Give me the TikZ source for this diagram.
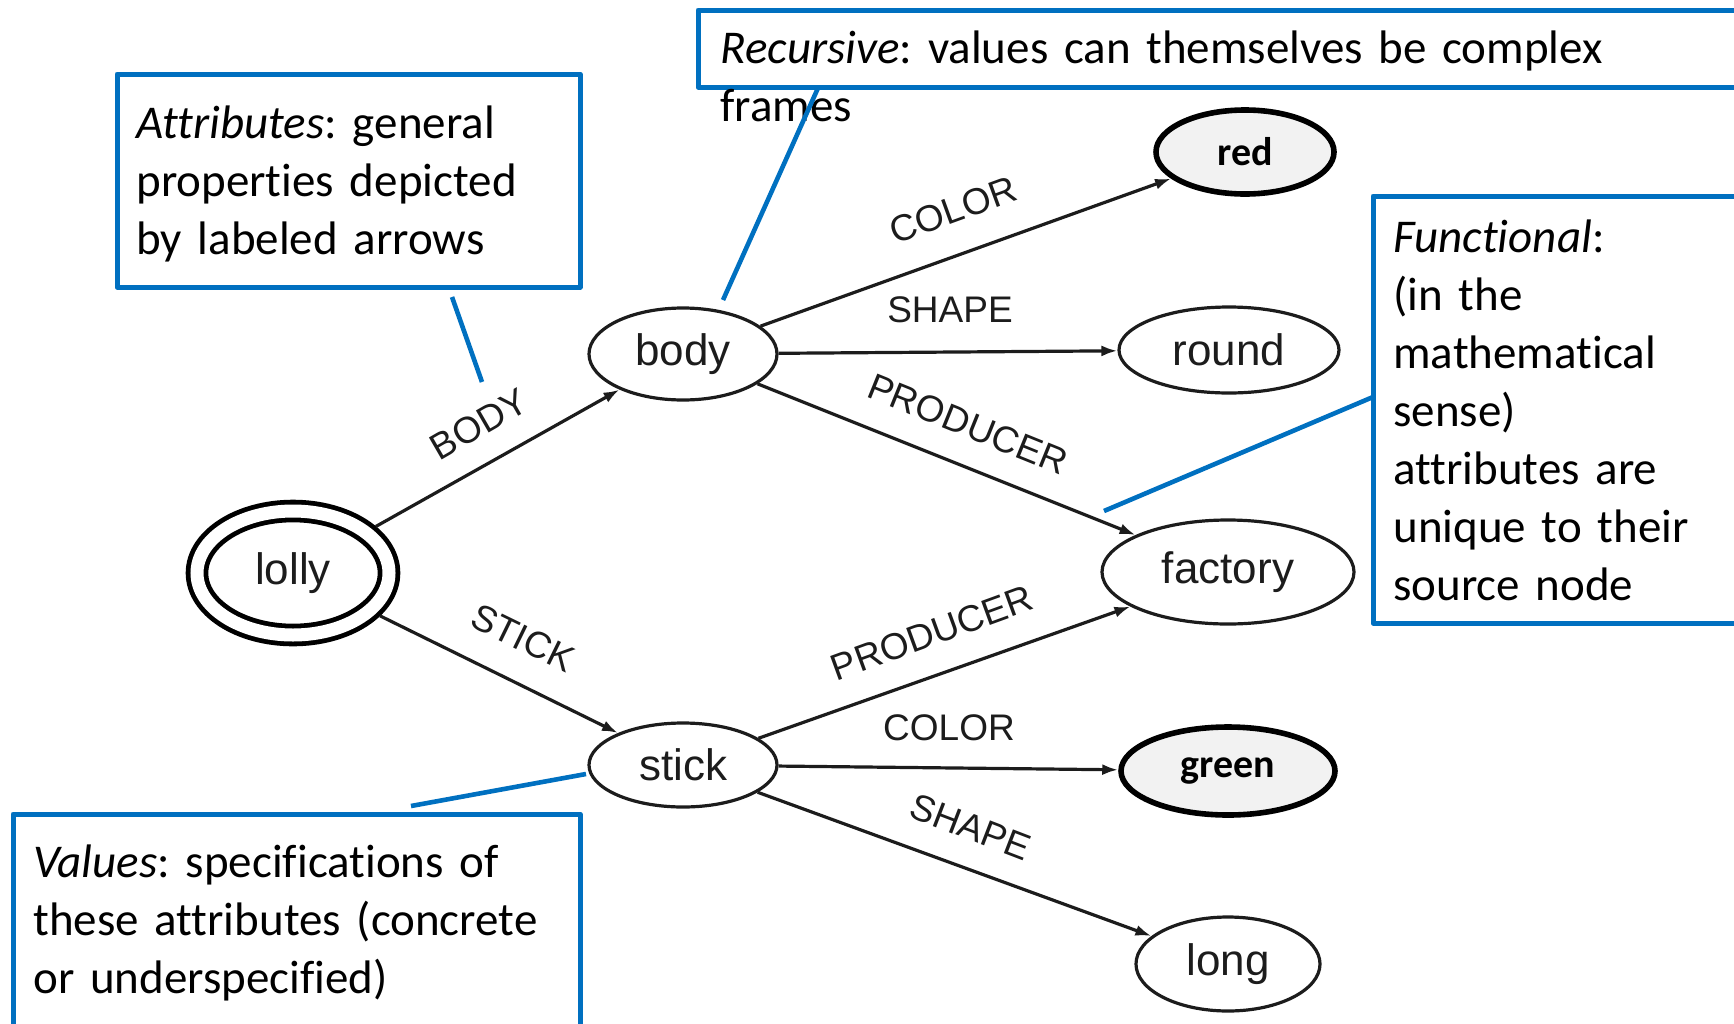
\documentclass[tikz,border=0pt]{standalone}
\usepackage{fontspec}
\setmainfont{Carlito}[Ligatures=NoCommon]
\newfontfamily\graphfont{Liberation Sans}
\usetikzlibrary{shapes.geometric,arrows.meta}
\definecolor{callblue}{RGB}{0,112,192}
\definecolor{inkgray}{RGB}{28,28,28}
\definecolor{valfill}{RGB}{242,242,242}
\frenchspacing

\begin{document}
\begin{tikzpicture}[x=0.5pt,y=-0.5pt,
  frame/.style={ellipse, draw=inkgray, line width=1.6pt, inner sep=0pt,
    text=inkgray, font=\graphfont\fontsize{22}{26}\selectfont},
  valnode/.style={ellipse, draw=black, line width=2.8pt, fill=valfill, inner sep=0pt,
    font=\bfseries\fontsize{20}{24}\selectfont},
  attr/.style={draw=inkgray, line width=1.6pt, -{Latex[length=8pt,width=5.5pt]}},
  elabel/.style={text=inkgray, font=\graphfont\fontsize{18.5}{22}\selectfont, inner sep=0pt},
  notebox/.style={draw=callblue, line width=2.5pt, fill=white, line join=round},
  notetext/.style={anchor=base west, inner sep=0pt, text width=500pt, align=left,
    font=\fontsize{23.5}{29}\selectfont},
  callout/.style={draw=callblue, line width=2.3pt}
]

\useasboundingbox (0,0) rectangle (1734,1023);
\clip (0,0) rectangle (1734,1023);

% ---- frame graph ----
\node[frame, draw=black, line width=2.4pt, double=white, double distance=6.5pt,
      minimum width=96pt, minimum height=62pt, outer sep=5.65pt] (lolly) at (293,573) {lolly};
\node[frame, minimum width=94pt, minimum height=46pt] (body) at (683,354) {body};
\node[valnode, minimum width=89pt, minimum height=42pt] (red) at (1245,152) {red};
\node[frame, minimum width=110pt, minimum height=43pt] (round) at (1229,350) {round};
\node[frame, minimum width=126pt, minimum height=52pt] (factory) at (1228,572) {factory};
\node[frame, minimum width=94pt, minimum height=42pt] (stick) at (683,765) {stick};
\node[valnode, minimum width=107pt, minimum height=44pt] (green) at (1228,771) {green};
\node[frame, minimum width=92pt, minimum height=47pt] (long) at (1228,964) {long};

\draw[attr] (lolly) -- (body);
\draw[attr] (lolly) -- (stick);
\draw[attr] (body) -- (red);
\draw[attr] (body) -- (round);
\draw[attr] (body) -- (factory);
\draw[attr] (stick) -- (factory);
\draw[attr] (stick) -- (green);
\draw[attr] (stick) -- (long);

\node[elabel, rotate=30]  (lbody)   at (479,424) {BODY};
\node[elabel, rotate=-26] (lstick)  at (523,638) {STICK};
\node[elabel, rotate=20]  (lcolor1) at (953,210) {COLOR};
\node[elabel]             (lshape1) at (950,310) {SHAPE};
\node[elabel, rotate=-22] (lprod1)  at (968,424) {PRODUCER};
\node[elabel, rotate=20]  (lprod2)  at (932,633) {PRODUCER};
\node[elabel]             (lcolor2) at (949,728) {COLOR};
\node[elabel, rotate=-21] (lshape2) at (971,827) {SHAPE};

% ---- annotation boxes ----
\draw[notebox] (117,74) rectangle (580,287);
\draw[notebox] (698,10) rectangle (1760,87);
\draw[notebox] (1373,196) rectangle (1760,623);
\draw[notebox] (13,814) rectangle (580,1060);

\node[notetext] (tattr) at (136,138)
  {\textit{Attributes}: general\\properties depicted\\by labeled arrows};
\node[notetext] (trec) at (720,63)
  {\textit{Recursive}: values can themselves be complex\\frames};
\node[notetext] (tfunc) at (1393,252)
  {\textit{Functional}:\\(in the\\mathematical\\sense)\\attributes are\\unique to their\\source node};
\node[notetext] (tval) at (33,877)
  {\textit{Values}: specifications of\\these attributes (concrete\\or underspecified)};

% ---- callout leaders ----
\coordinate (attrA) at (452,297);  \coordinate (attrB) at (482,382);
\coordinate (recA)  at (818,88);   \coordinate (recB)  at (723,300);
\coordinate (funA)  at (1373,397); \coordinate (funB)  at (1104,511);
\coordinate (valA)  at (411,806);  \coordinate (valB)  at (586,774);
\draw[callout] (attrA) -- (attrB);
\draw[callout] (recA) -- (recB);
\draw[callout] (funA) -- (funB);
\draw[callout] (valA) -- (valB);
\end{tikzpicture}
\end{document}
